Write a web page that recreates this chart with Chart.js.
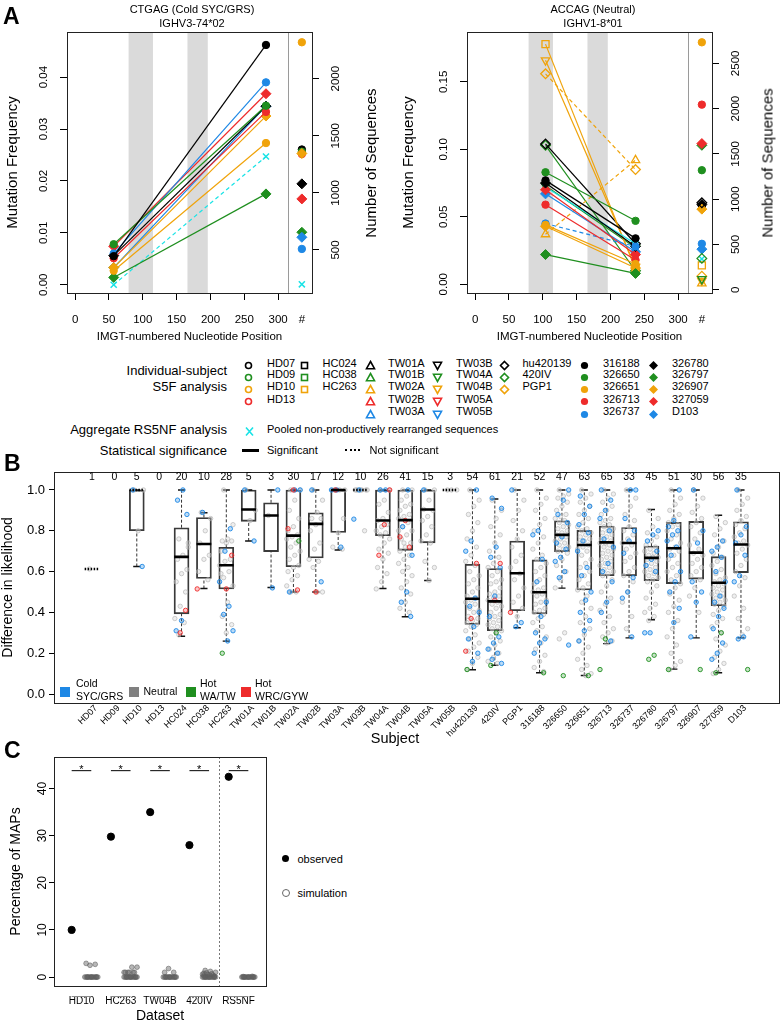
<!DOCTYPE html>
<html>
<head>
<meta charset="utf-8">
<script src="https://cdn.jsdelivr.net/npm/chart.js@4.4.1/dist/chart.umd.min.js"></script>
<style>
  html, body { overflow: hidden; }
  body { margin: 0; background: #fff; width: 782px; height: 1025px; position: relative;
         font-family: "Liberation Sans", Arial, Helvetica, sans-serif; color: #000; }
  canvas { position: absolute; }
  .t { position: absolute; white-space: nowrap; line-height: 1; color: #000; }
  .mk { position: absolute; width: 11px; height: 11px; }
</style>
</head>
<body>
<canvas id="a1" width="390" height="345" style="left:0;top:0"></canvas>
<canvas id="a2" width="392" height="345" style="left:390px;top:0"></canvas>
<canvas id="b" width="782" height="300" style="left:0;top:460px"></canvas>
<canvas id="c" width="280" height="280" style="left:0;top:745px"></canvas>
<script>
// ---------------- data ----------------
// Panel A: IMGT nucleotide positions of the two motif occurrences
const ctgagPositions = [57, 282];
const accagPositions = [104, 237];
const seqColumn = 335;                 // x slot of the "#" column
const cdrBands = [[79, 115], [166, 196]];
const posTicks = [0, 50, 100, 150, 200, 250, 300];

const ctgagSubjects = ['316188', '326650', '326651', '326713', '326737', '326780', '326797', '326907', '327059', 'D103', 'RS5NF'];
const ctgagFreqFrom = [0.0055, 0.0078, 0.0027, 0.0051, 0.0060, 0.0056, 0.0014, 0.0033, 0.0074, 0.0033, 0.0000];
const ctgagFreqTo   = [0.0462, 0.0345, 0.0273, 0.0333, 0.0390, 0.0344, 0.0175, 0.0325, 0.0368, 0.0344, 0.0247];
const ctgagSeqs     = [1380, 1360, 2319, 1340, 509, 1079, 655, 1345, 947, 611, 199];
const ctgagSignif   = [true, true, true, true, true, true, true, true, true, true, false];
const ctgagFreqTicks = [0, 0.01, 0.02, 0.03, 0.04];
const ctgagSeqTicks  = [500, 1000, 1500, 2000];

const accagSubjects = ['316188', '326650', '326651', '326713', '326737', '326780', '326797', '326907', '327059', 'D103', 'RS5NF',
                       'HC263', 'TW04B', 'PGP1', 'TW02A', 'hu420139', '420IV', 'TW04A'];
const accagFreqFrom = [0.077, 0.083, 0.044, 0.059, 0.045, 0.075, 0.022, 0.043, 0.070, 0.067, 0.072,
                       0.178, 0.166, 0.156, 0.037, 0.104, 0.103, 0.073];
const accagFreqTo   = [0.034, 0.047, 0.015, 0.018, 0.028, 0.028, 0.008, 0.012, 0.022, 0.024, 0.030,
                       0.011, 0.013, 0.085, 0.092, 0.030, 0.010, 0.027];
const accagSeqs     = [926, 1320, 2732, 2044, 507, 940, 1595, 890, 1614, 448, 340,
                       269, 100, 150, 70, 960, 346, 118];
const accagSignif   = [true, true, true, true, false, true, true, true, true, true, true,
                       true, true, false, false, true, true, true];
const accagFreqTicks = [0, 0.05, 0.10, 0.15];
const accagSeqTicks  = [0, 500, 1000, 1500, 2000, 2500];

// legend layout of subjects (column = symbol, row = colour)
const legendColumns = [
  ['HD07', 'HD09', 'HD10', 'HD13'],
  ['HC024', 'HC038', 'HC263'],
  ['TW01A', 'TW01B', 'TW02A', 'TW02B', 'TW03A'],
  ['TW03B', 'TW04A', 'TW04B', 'TW05A', 'TW05B'],
  ['hu420139', '420IV', 'PGP1'],
  ['316188', '326650', '326651', '326713', '326737'],
  ['326780', '326797', '326907', '327059', 'D103']
];

// Panel B
const subjectsB = ['HD07', 'HD09', 'HD10', 'HD13', 'HC024', 'HC038', 'HC263', 'TW01A', 'TW01B', 'TW02A', 'TW02B', 'TW03A',
                   'TW03B', 'TW04A', 'TW04B', 'TW05A', 'TW05B', 'hu420139', '420IV', 'PGP1', '316188', '326650', '326651',
                   '326713', '326737', '326780', '326797', '326907', '327059', 'D103'];
const nMaps = [1, 0, 5, 0, 20, 10, 28, 5, 3, 30, 17, 12, 10, 26, 41, 15, 3, 54, 61, 21, 52, 47, 63, 65, 33, 45, 51, 30, 56, 35];
const lowB  = [0.613, null, 0.625, null, 0.283, 0.517, 0.259, 0.75, 0.522, 0.50, 0.50, 0.706, 1, 0.517, 0.379, 0.556, 1,
               0.119, 0.141, 0.325, 0.104, 0.519, 0.091, 0.247, 0.275, 0.364, 0.122, 0.275, 0.104, 0.275];
const q1B   = [0.613, null, 0.80, null, 0.393, 0.566, 0.515, 0.846, 0.698, 0.624, 0.667, 0.792, 1, 0.776, 0.704, 0.741, 1,
               0.341, 0.310, 0.408, 0.393, 0.698, 0.510, 0.580, 0.579, 0.556, 0.541, 0.563, 0.433, 0.595];
const medB  = [0.613, null, 1.00, null, 0.672, 0.735, 0.631, 0.904, 0.875, 0.776, 0.834, 1.0, 1, 0.850, 0.852, 0.904, 1,
               0.467, 0.454, 0.592, 0.499, 0.780, 0.730, 0.743, 0.740, 0.667, 0.714, 0.693, 0.545, 0.733];
const q3B   = [0.613, null, 1.00, null, 0.815, 0.865, 0.719, 1.0, 0.937, 1.0, 0.888, 1.0, 1, 1.0, 1.0, 1.0, 1,
               0.636, 0.615, 0.750, 0.657, 0.849, 0.802, 0.823, 0.816, 0.725, 0.841, 0.846, 0.673, 0.844];
const highB = [0.613, null, 1.00, null, 1.0, 0.888, 1.0, 1.0, 1.0, 1.0, 1.0, 1.0, 1, 1.0, 1.0, 1.0, 1,
               1.0, 0.956, 1.0, 1.0, 1.0, 1.0, 1.0, 1.0, 0.904, 1.0, 1.0, 0.876, 1.0];
const signifB = [false, false, false, false, true, true, true, true, true, true, true, true, false, true, true, true, false,
                 true, true, true, true, true, true, true, true, true, true, true, true, true];

const neutralPts = [
  [0.613], [], [1.0, 1.0, 0.8], [],
  [0.76, 0.74, 0.68, 0.66, 0.61, 0.59, 0.55, 0.50, 0.43, 0.37, 0.35, 0.29, 0.72],
  [0.89, 0.86, 0.80, 0.74, 0.68, 0.66, 0.60, 0.56],
  [1.0, 0.83, 0.76, 0.75, 0.75, 0.74, 0.70, 0.66, 0.65, 0.63, 0.60, 0.57, 0.53, 0.45, 0.38, 0.34, 0.30, 0.59],
  [1.0, 0.9, 0.85],
  [0.875],
  [1.0, 1.0, 0.95, 0.90, 0.86, 0.82, 0.80, 0.78, 0.77, 0.76, 0.74, 0.72, 0.70, 0.68, 0.66, 0.63, 0.62, 0.60, 0.58, 0.56, 0.53, 0.50, 0.50],
  [1.0, 0.95, 0.89, 0.86, 0.86, 0.83, 0.80, 0.74, 0.71, 0.66, 0.65, 0.62, 0.50, 0.50],
  [1.0, 1.0, 1.0, 1.0, 0.86, 0.79, 0.72, 0.71],
  [1.0, 1.0, 1.0, 1.0, 1.0, 1.0, 1.0, 0.80],
  [1.0, 1.0, 0.95, 0.93, 0.89, 0.86, 0.85, 0.83, 0.82, 0.80, 0.79, 0.78, 0.76, 0.74, 0.71, 0.69, 0.66, 0.62, 0.59, 0.55, 0.515],
  [1.0, 1.0, 0.97, 0.95, 0.93, 0.92, 0.90, 0.88, 0.87, 0.86, 0.84, 0.82, 0.80, 0.78, 0.76, 0.74, 0.72, 0.70, 0.68, 0.66, 0.64, 0.62,
   0.60, 0.58, 0.55, 0.52, 0.49, 0.45, 0.42, 0.40, 0.74, 0.80],
  [1.0, 1.0, 0.95, 0.905, 0.90, 0.87, 0.85, 0.82, 0.78, 0.75, 0.74, 0.65, 0.62, 0.556],
  [1.0, 1.0, 1.0],
  [1.0, 0.95, 0.92, 0.88, 0.84, 0.80, 0.76, 0.72, 0.68, 0.65, 0.63, 0.60, 0.58, 0.56, 0.54, 0.52, 0.50, 0.48, 0.47, 0.46,
   0.45, 0.44, 0.42, 0.41, 0.40, 0.38, 0.37, 0.36, 0.35, 0.34, 0.33, 0.31, 0.29, 0.27, 0.25, 0.23, 0.21, 0.18, 0.15, 0.12],
  [0.95, 0.90, 0.86, 0.82, 0.78, 0.74, 0.70, 0.67, 0.64, 0.62, 0.60, 0.58, 0.56, 0.55, 0.54, 0.52, 0.50, 0.49, 0.48, 0.47, 0.46, 0.45,
   0.44, 0.43, 0.42, 0.40, 0.39, 0.38, 0.37, 0.36, 0.35, 0.34, 0.33, 0.32, 0.31, 0.30, 0.28, 0.26, 0.24, 0.22, 0.20, 0.18, 0.16, 0.15],
  [1.0, 0.95, 0.90, 0.85, 0.80, 0.76, 0.72, 0.68, 0.65, 0.62, 0.59, 0.56, 0.52, 0.48, 0.45, 0.42, 0.38],
  [1.0, 0.96, 0.93, 0.90, 0.86, 0.83, 0.80, 0.77, 0.74, 0.71, 0.68, 0.66, 0.64, 0.62, 0.60, 0.58, 0.56, 0.54, 0.52, 0.51, 0.50,
   0.49, 0.48, 0.46, 0.45, 0.44, 0.42, 0.41, 0.40, 0.39, 0.37, 0.35, 0.33, 0.31, 0.28, 0.25, 0.22, 0.19, 0.16, 0.13, 0.11],
  [1.0, 0.98, 0.97, 0.96, 0.94, 0.92, 0.90, 0.88, 0.87, 0.86, 0.85, 0.84, 0.83, 0.82, 0.81, 0.80, 0.79, 0.78, 0.77, 0.76, 0.75,
   0.74, 0.73, 0.72, 0.71, 0.70, 0.69, 0.66, 0.63, 0.60, 0.56, 0.52, 0.30, 0.27],
  [1.0, 0.98, 0.96, 0.94, 0.92, 0.90, 0.88, 0.86, 0.84, 0.82, 0.81, 0.80, 0.79, 0.78, 0.77, 0.76, 0.75, 0.74, 0.73, 0.72, 0.71,
   0.70, 0.68, 0.66, 0.64, 0.62, 0.60, 0.58, 0.56, 0.54, 0.52, 0.51, 0.48, 0.45, 0.42, 0.38, 0.35, 0.32, 0.29, 0.26, 0.23, 0.20,
   0.17, 0.14, 0.12, 0.10, 0.09],
  [1.0, 0.98, 0.96, 0.94, 0.92, 0.90, 0.88, 0.86, 0.85, 0.84, 0.83, 0.82, 0.81, 0.80, 0.79, 0.78, 0.77, 0.76, 0.75, 0.74, 0.74,
   0.73, 0.72, 0.71, 0.70, 0.69, 0.68, 0.67, 0.66, 0.65, 0.64, 0.63, 0.62, 0.61, 0.60, 0.59, 0.58, 0.56, 0.53, 0.50, 0.47, 0.44,
   0.41, 0.38, 0.35, 0.32, 0.30, 0.28, 0.26, 0.25],
  [1.0, 0.96, 0.92, 0.88, 0.85, 0.82, 0.80, 0.78, 0.76, 0.74, 0.73, 0.71, 0.69, 0.67, 0.65, 0.62, 0.60, 0.58, 0.55, 0.50, 0.45, 0.38, 0.32],
  [0.90, 0.86, 0.82, 0.79, 0.77, 0.75, 0.73, 0.72, 0.71, 0.70, 0.69, 0.68, 0.67, 0.67, 0.66, 0.65, 0.64, 0.63, 0.62, 0.61, 0.60,
   0.59, 0.58, 0.57, 0.56, 0.55, 0.53, 0.50, 0.47, 0.44, 0.42, 0.40, 0.38, 0.36],
  [1.0, 0.96, 0.93, 0.90, 0.88, 0.86, 0.84, 0.83, 0.82, 0.80, 0.78, 0.76, 0.74, 0.72, 0.71, 0.70, 0.68, 0.66, 0.64, 0.62, 0.60,
   0.58, 0.56, 0.54, 0.52, 0.49, 0.46, 0.43, 0.40, 0.36, 0.32, 0.28, 0.24, 0.20, 0.16, 0.14, 0.12],
  [1.0, 0.96, 0.92, 0.89, 0.86, 0.84, 0.82, 0.79, 0.76, 0.73, 0.71, 0.69, 0.68, 0.66, 0.64, 0.62, 0.60, 0.58, 0.56, 0.52, 0.48, 0.40],
  [0.87, 0.84, 0.81, 0.78, 0.75, 0.72, 0.69, 0.67, 0.65, 0.63, 0.61, 0.59, 0.57, 0.56, 0.55, 0.54, 0.53, 0.52, 0.51, 0.50, 0.49,
   0.48, 0.47, 0.46, 0.45, 0.44, 0.43, 0.41, 0.39, 0.37, 0.35, 0.33, 0.30, 0.27, 0.24, 0.21, 0.18, 0.15, 0.12, 0.10],
  [1.0, 0.96, 0.93, 0.90, 0.87, 0.85, 0.83, 0.81, 0.79, 0.77, 0.75, 0.74, 0.73, 0.71, 0.69, 0.66, 0.63, 0.60, 0.57, 0.53, 0.48,
   0.42, 0.37, 0.32, 0.29]
];
const coldPts = [
  [], [], [1.0, 0.625], [], [1.0, 0.95, 0.88, 0.36, 0.31], [0.89], [0.81, 0.70, 0.55, 0.43, 0.39, 0.31, 0.26],
  [1.0, 0.75], [1.0, 0.52], [1.0, 1.0, 0.5], [1.0, 0.55], [1.0, 1.0, 0.72], [1.0, 0.857], [1.0, 1.0],
  [1.0, 0.82, 0.68, 0.5, 0.45, 0.38], [1.0], [],
  [1.0, 0.75, 0.70, 0.47, 0.43, 0.40, 0.33, 0.27, 0.20, 0.16],
  [0.96, 0.91, 0.72, 0.67, 0.62, 0.48, 0.38, 0.28, 0.25, 0.22, 0.20, 0.17, 0.15],
  [1.0, 0.35, 0.33],
  [0.80, 0.78, 0.66, 0.55, 0.45, 0.38, 0.30, 0.27, 0.25, 0.20],
  [1.0, 0.95, 0.88, 0.84, 0.77, 0.74, 0.71, 0.67, 0.65, 0.60, 0.57, 0.24],
  [0.97, 0.92, 0.88, 0.83, 0.79, 0.75, 0.70, 0.62, 0.58, 0.50, 0.46, 0.40, 0.36, 0.31, 0.26],
  [1.0, 0.95, 0.90, 0.86, 0.80, 0.76, 0.72, 0.64, 0.60, 0.55, 0.45, 0.40, 0.26],
  [1.0, 1.0, 0.86, 0.80, 0.75, 0.69, 0.57, 0.50, 0.47, 0.28],
  [0.80, 0.78, 0.75, 0.70, 0.66, 0.63, 0.60, 0.30, 0.30],
  [1.0, 0.85, 0.82, 0.80, 0.78, 0.75, 0.72, 0.68, 0.60, 0.55, 0.50, 0.42, 0.35],
  [1.0, 0.80, 0.74, 0.55, 0.50, 0.45, 0.28],
  [0.75, 0.72, 0.70, 0.67, 0.60, 0.55, 0.48, 0.45, 0.42, 0.38, 0.32, 0.25, 0.20, 0.17],
  [1.0, 0.82, 0.78, 0.74, 0.68, 0.58, 0.55, 0.28, 0.27]
];
const hotWaPts = [
  [], [], [], [], [], [], [0.20], [], [], [0.75], [], [], [], [], [], [], [],
  [0.12], [0.30, 0.14], [], [0.104], [0.09], [0.09], [0.27, 0.12], [], [0.19, 0.17], [0.12], [0.12], [0.30, 0.104], [0.12]
];
const hotWrcPts = [
  [], [], [], [], [0.41, 0.30], [0.515], [0.68, 0.515], [], [], [1.0, 0.81, 0.51], [0.5], [1.0], [], [1.0, 0.83, 0.68],
  [0.85, 0.77, 0.72], [], [], [0.64, 0.37, 0.21], [0.64, 0.46], [0.40], [], [], [], [], [], [], [], [], [], []
];
const likelihoodTicks = [0, 0.2, 0.4, 0.6, 0.8, 1.0];

// Panel C
const datasetsC = ['HD10', 'HC263', 'TW04B', '420IV', 'RS5NF'];
const observedC = [10, 29.8, 35, 28, 42.5];
const simulatedC = [
  [0, 0, 0, 0, 0, 0, 0, 0, 0, 0, 0, 0, 0, 0, 2.9, 2.7, 2.5],
  [0, 0, 0, 0, 0, 0, 0, 0, 0, 0, 0, 0, 0, 0, 1, 1, 1, 1, 1, 1, 2.1, 2.1],
  [0, 0, 0, 0, 0, 0, 0, 0, 0, 0, 0, 0, 0, 0, 1, 1, 1.8],
  [0, 0, 0, 0, 0, 0, 0, 0, 0, 0, 0, 0, 0, 0, 0.3, 0.4, 0.5, 0.6, 0.7, 0.9, 1.0, 1.2, 1.4, 0.2, 0.5, 0.8],
  [0, 0, 0, 0, 0, 0, 0, 0, 0, 0, 0, 0, 0, 0, 0.1, 0.15]
];
const mapTicks = [0, 10, 20, 30, 40];

// ---------------- styling ----------------
const FONT = "'Liberation Sans', Arial, Helvetica, sans-serif";
Chart.defaults.font.family = FONT;
Chart.defaults.color = '#000';
Chart.defaults.plugins.legend.display = false;
Chart.defaults.plugins.tooltip.enabled = false;

const rowColors = ['#000000', '#1f8f1f', '#f0a30a', '#ee2b2b', '#1e88e5'];
const columnShapes = ['circle', 'square', 'triangle', 'triangleDown', 'diamond', 'dot', 'solidDiamond'];
const CYAN = '#19e3e6';
const CLEAR = 'rgba(0,0,0,0)';

function markerOf(name) {
  if (name === 'RS5NF') return { shape: 'cross', color: CYAN };
  for (let c = 0; c < legendColumns.length; c++) {
    const r = legendColumns[c].indexOf(name);
    if (r >= 0) return { shape: columnShapes[c], color: rowColors[r] };
  }
}

function pointOf(m) {
  const base = { color: m.color, rot: 0, fill: CLEAR, bw: 1.3 };
  switch (m.shape) {
    case 'circle': return Object.assign(base, { style: 'circle', r: 3.4 });
    case 'square': return Object.assign(base, { style: 'rect', r: 5 });
    case 'triangle': return Object.assign(base, { style: 'triangle', r: 4.8 });
    case 'triangleDown': return Object.assign(base, { style: 'triangle', r: 4.8, rot: 180 });
    case 'diamond': return Object.assign(base, { style: 'rectRot', r: 4.8 });
    case 'dot': return Object.assign(base, { style: 'circle', r: 3.7, fill: m.color, bw: 1 });
    case 'solidDiamond': return Object.assign(base, { style: 'rectRot', r: 5, fill: m.color, bw: 1 });
    default: return Object.assign(base, { style: 'crossRot', r: 4.3, bw: 1.5 });
  }
}

function put(text, x, y, size, align, opts) {
  opts = opts || {};
  const d = document.createElement('div');
  d.className = 't';
  d.textContent = text;
  d.style.fontSize = size + 'px';
  d.style.left = x + 'px';
  d.style.top = y + 'px';
  if (opts.bold) d.style.fontWeight = 'bold';
  const tx = align === 'right' ? '-100%' : align === 'center' ? '-50%' : '0';
  if (opts.vertical) {
    // bottom-to-top text without an overflowing layout box
    d.style.writingMode = 'vertical-rl';
    d.style.transform = 'translate(-50%,-50%) rotate(180deg)';
  } else {
    d.style.transform = 'translate(' + tx + ',-50%)';
  }
  document.body.appendChild(d);
  return d;
}

function svgMarker(shape, color, cx, cy) {
  let body;
  const sw = 'stroke="' + color + '" stroke-width="1.6"';
  switch (shape) {
    case 'circle': body = '<circle cx="5.5" cy="5.5" r="3" fill="none" ' + sw + '/>'; break;
    case 'square': body = '<rect x="2.5" y="2.5" width="6" height="6" fill="none" ' + sw + '/>'; break;
    case 'triangle': body = '<polygon points="5.5,1.5 9.5,8.7 1.5,8.7" fill="none" ' + sw + '/>'; break;
    case 'triangleDown': body = '<polygon points="1.5,2.3 9.5,2.3 5.5,9.5" fill="none" ' + sw + '/>'; break;
    case 'diamond': body = '<polygon points="5.5,1.5 9.5,5.5 5.5,9.5 1.5,5.5" fill="none" ' + sw + '/>'; break;
    case 'dot': body = '<circle cx="5.5" cy="5.5" r="3.6" fill="' + color + '"/>'; break;
    case 'solidDiamond': body = '<polygon points="5.5,1 10,5.5 5.5,10 1,5.5" fill="' + color + '"/>'; break;
    default: body = '<path d="M2,1.5 L9,9.5 M9,1.5 L2,9.5" ' + sw + '/>';
  }
  const d = document.createElement('div');
  d.className = 'mk';
  d.style.left = (cx - 5.5) + 'px';
  d.style.top = (cy - 5.5) + 'px';
  d.innerHTML = '<svg width="11" height="11" viewBox="0 0 11 11">' + body + '</svg>';
  document.body.appendChild(d);
}

function boxPlugin(extra) {
  return {
    id: 'box',
    beforeDatasetsDraw(chart) {
      if (extra && extra.before) extra.before(chart);
    },
    afterDraw(chart) {
      const { ctx, chartArea: a } = chart;
      ctx.save();
      ctx.strokeStyle = '#222';
      ctx.lineWidth = 1;
      ctx.setLineDash([]);
      ctx.strokeRect(Math.round(a.left) + 0.5, Math.round(a.top) + 0.5, Math.round(a.right - a.left), Math.round(a.bottom - a.top));
      if (extra && extra.after) extra.after(chart);
      ctx.restore();
    }
  };
}

function fixedTicks(values) {
  return scale => { scale.ticks = values.map(v => ({ value: v })); };
}

// ---------------- panel A ----------------
function motifChart(id, cfg) {
  const marks = cfg.subjects.map(s => pointOf(markerOf(s)));
  const datasets = cfg.subjects.map((s, i) => ({
    type: 'line',
    data: [{ x: cfg.pos[0], y: cfg.from[i] }, { x: cfg.pos[1], y: cfg.to[i] }],
    borderColor: marks[i].color,
    borderWidth: 1.2,
    borderDash: cfg.signif[i] ? [] : [4, 3],
    pointStyle: marks[i].style,
    pointRotation: marks[i].rot,
    pointRadius: marks[i].r,
    pointBackgroundColor: marks[i].fill,
    pointBorderColor: marks[i].color,
    pointBorderWidth: marks[i].bw,
    yAxisID: 'y'
  }));
  datasets.push({
    type: 'scatter',
    data: cfg.subjects.map((s, i) => ({ x: seqColumn, y: cfg.seqs[i] })),
    yAxisID: 'y2',
    pointStyle: marks.map(m => m.style),
    pointRotation: marks.map(m => m.rot),
    pointRadius: marks.map(m => m.r),
    pointBackgroundColor: marks.map(m => m.fill),
    pointBorderColor: marks.map(m => m.color),
    pointBorderWidth: marks.map(m => m.bw)
  });

  return new Chart(document.getElementById(id), {
    type: 'scatter',
    data: { datasets },
    options: {
      responsive: false,
      animation: false,
      layout: { autoPadding: false, padding: { top: 32, left: 0, right: 0, bottom: 0 } },
      scales: {
        x: {
          type: 'linear', min: -12, max: 350, offset: false,
          afterBuildTicks: fixedTicks(posTicks.concat([seqColumn])),
          ticks: { autoSkip: false, maxRotation: 0, padding: 13, font: { size: 11.5 },
                   callback: v => (v === seqColumn ? '#' : String(v)) },
          grid: { drawOnChartArea: false, tickLength: 7,
                  color: c => (c.tick && c.tick.value === seqColumn ? CLEAR : '#000') },
          border: { display: false },
          title: { display: true, text: 'IMGT-numbered Nucleotide Position', font: { size: 11.5 }, padding: { top: 0, bottom: 1 } },
          afterFit: s => { s.height = 52; }
        },
        y: {
          position: 'left', min: cfg.yMin, max: cfg.yMax,
          afterBuildTicks: fixedTicks(cfg.freqTicks),
          ticks: { minRotation: 90, maxRotation: 90, crossAlign: 'center', padding: 5, font: { size: 11.5 },
                   callback: v => v.toFixed(2) },
          grid: { drawOnChartArea: false, tickLength: 7, color: '#000' },
          border: { display: false },
          title: { display: true, text: 'Mutation Frequency', font: { size: 15 }, padding: { top: cfg.titlePad, bottom: 0 } },
          afterFit: s => { s.width = cfg.leftW; }
        },
        y2: {
          position: 'right', min: cfg.nMin, max: cfg.nMax,
          afterBuildTicks: fixedTicks(cfg.seqTicks),
          ticks: { minRotation: 90, maxRotation: 90, crossAlign: 'center', padding: 4.5, font: { size: 11.5 },
                   callback: v => String(v) },
          grid: { drawOnChartArea: false, tickLength: 7, color: '#000' },
          border: { display: false },
          afterFit: s => { s.width = cfg.rightW; }
        }
      }
    },
    plugins: [boxPlugin({
      before(chart) {
        const { ctx, chartArea: a, scales: { x } } = chart;
        ctx.save();
        ctx.fillStyle = '#dadada';
        cdrBands.forEach(b => {
          const x0 = x.getPixelForValue(b[0]), x1 = x.getPixelForValue(b[1]);
          ctx.fillRect(x0, a.top, x1 - x0, a.bottom - a.top);
        });
        const sx = Math.round(x.getPixelForValue((posTicks[posTicks.length - 1] + seqColumn) / 2 - 3)) + 0.5;
        ctx.strokeStyle = '#9a9a9a';
        ctx.lineWidth = 1;
        ctx.beginPath(); ctx.moveTo(sx, a.top); ctx.lineTo(sx, a.bottom); ctx.stroke();
        ctx.restore();
      }
    })]
  });
}

motifChart('a1', {
  subjects: ctgagSubjects, pos: ctgagPositions, from: ctgagFreqFrom, to: ctgagFreqTo, seqs: ctgagSeqs,
  signif: ctgagSignif, freqTicks: ctgagFreqTicks, seqTicks: ctgagSeqTicks,
  yMin: -0.0016, yMax: 0.0487, nMin: 123, nMax: 2409, leftW: 67, rightW: 78, titlePad: 4
});
motifChart('a2', {
  subjects: accagSubjects, pos: accagPositions, from: accagFreqFrom, to: accagFreqTo, seqs: accagSeqs,
  signif: accagSignif, freqTicks: accagFreqTicks, seqTicks: accagSeqTicks,
  yMin: -0.0065, yMax: 0.187, nMin: -36, nMax: 2846, leftW: 77, rightW: 70, titlePad: 10
});

// ---------------- panel B ----------------
(function () {
  const half = 0.33, cap = 0.16;
  const boxes = [], whiskers = [], caps = [], medSolid = [], medDot = [];
  const grey = [], blue = [], green = [], red = [];
  subjectsB.forEach((s, i) => {
    const p = i + 1;
    if (q1B[i] === null) return;
    const seg = medianArr => { medianArr.push({ x: p - half, y: medB[i] }, { x: p + half, y: medB[i] }, { x: p + half, y: null }); };
    seg(signifB[i] ? medSolid : medDot);
    if (q3B[i] > q1B[i]) {
      boxes.push({ x: p, y: [q1B[i], q3B[i]] });
      whiskers.push({ x: p, y: lowB[i] }, { x: p, y: q1B[i] }, { x: p, y: null },
                    { x: p, y: q3B[i] }, { x: p, y: highB[i] }, { x: p, y: null });
      caps.push({ x: p - cap, y: lowB[i] }, { x: p + cap, y: lowB[i] }, { x: p + cap, y: null },
                { x: p - cap, y: highB[i] }, { x: p + cap, y: highB[i] }, { x: p + cap, y: null });
    }
    let k = 0;
    const jitter = () => { const o = ((k * 7 + 3) % 11 - 5) / 5 * 0.3; k++; return o; };
    neutralPts[i].forEach(v => grey.push({ x: p + jitter(), y: v }));
    coldPts[i].forEach(v => blue.push({ x: p + jitter(), y: v }));
    hotWaPts[i].forEach(v => green.push({ x: p + jitter(), y: v }));
    hotWrcPts[i].forEach(v => red.push({ x: p + jitter(), y: v }));
  });

  const pts = (data, border, fill, order) => ({
    type: 'scatter', data, pointRadius: 2.2, pointBorderWidth: 1,
    pointBorderColor: border, pointBackgroundColor: fill, order
  });
  const segs = (data, color, width, dash, order) => ({
    type: 'line', data, borderColor: color, borderWidth: width, borderDash: dash,
    pointRadius: 0, spanGaps: false, order
  });

  new Chart(document.getElementById('b'), {
    type: 'scatter',
    data: {
      datasets: [
        { type: 'bar', data: boxes, backgroundColor: CLEAR, borderColor: '#3a3a3a', borderWidth: 1.2,
          borderSkipped: false, barThickness: 15, order: 10 },
        segs(whiskers, '#333', 1, [3, 2], 9),
        segs(caps, '#111', 1.4, [], 8),
        pts(grey, 'rgba(175,175,175,0.6)', 'rgba(215,215,215,0.4)', 7),
        pts(blue, 'rgba(30,136,229,0.9)', 'rgba(30,136,229,0.3)', 6),
        pts(green, 'rgba(31,143,31,0.9)', 'rgba(31,143,31,0.25)', 5),
        pts(red, 'rgba(238,43,43,0.9)', 'rgba(238,43,43,0.25)', 4),
        segs(medSolid, '#000', 2.6, [], 1),
        segs(medDot, '#000', 2.6, [1.5, 1.5], 1)
      ]
    },
    options: {
      responsive: false,
      animation: false,
      layout: { autoPadding: false, padding: { top: 11, right: 3, left: 0, bottom: 0 } },
      scales: {
        x: {
          type: 'linear', min: -0.7, max: 31.7, offset: false,
          afterBuildTicks: fixedTicks(subjectsB.map((s, i) => i + 1)),
          ticks: { autoSkip: false, minRotation: 45, maxRotation: 45, padding: 0, labelOffset: 4, font: { size: 9 },
                   callback: v => subjectsB[v - 1] },
          grid: { display: false, drawTicks: false },
          border: { display: false },
          afterFit: s => { s.height = 57; }
        },
        y: {
          min: -0.044, max: 1.089,
          afterBuildTicks: fixedTicks(likelihoodTicks),
          ticks: { padding: 4, font: { size: 13 }, callback: v => v.toFixed(1) },
          grid: { drawOnChartArea: false, tickLength: 5, color: '#000' },
          border: { display: false },
          title: { display: true, text: 'Difference in likelihood', font: { size: 14 }, padding: { top: 0, bottom: 0 } },
          afterFit: s => { s.width = 54; }
        }
      }
    },
    plugins: [boxPlugin({
      after(chart) {
        const { ctx, chartArea: a, scales: { x } } = chart;
        ctx.fillStyle = '#000';
        ctx.font = '10.5px ' + FONT;
        ctx.textAlign = 'center';
        ctx.textBaseline = 'middle';
        nMaps.forEach((n, i) => ctx.fillText(String(n), x.getPixelForValue(i + 1), a.top + 5.5));
      }
    })]
  });
})();

// ---------------- panel C ----------------
(function () {
  const sigLevel = 43.8;
  const splitAt = 8.5;
  const bracket = [], obs = [], sim = [];
  datasetsC.forEach((name, k) => {
    const xo = 2 * k + 1, xs = 2 * k + 2;
    bracket.push({ x: xo, y: sigLevel }, { x: xs, y: sigLevel }, { x: xs, y: null });
    obs.push({ x: xo, y: observedC[k] });
    simulatedC[k].forEach((v, j) => sim.push({ x: xs + ((j * 7 + 2) % 11 - 5) / 5 * 0.33, y: v }));
  });

  new Chart(document.getElementById('c'), {
    type: 'scatter',
    data: {
      datasets: [
        { type: 'line', data: bracket, borderColor: '#000', borderWidth: 1, pointRadius: 0, spanGaps: false },
        { type: 'scatter', data: obs, pointRadius: 3.6, pointBackgroundColor: '#000', pointBorderColor: '#000' },
        { type: 'scatter', data: sim, pointRadius: 2.4, pointBorderWidth: 1,
          pointBackgroundColor: 'rgba(95,95,95,0.45)', pointBorderColor: 'rgba(95,95,95,0.55)' }
      ]
    },
    options: {
      responsive: false,
      animation: false,
      layout: { autoPadding: false, padding: { top: 12, right: 14, left: 0, bottom: 0 } },
      scales: {
        x: {
          type: 'linear', min: 0.1, max: 10.9, offset: false,
          afterBuildTicks: fixedTicks(datasetsC.map((n, k) => 2 * k + 1.5)),
          ticks: { autoSkip: false, maxRotation: 0, padding: 9.5, font: { size: 10 },
                   callback: v => datasetsC[(v - 1.5) / 2] },
          grid: { display: false, drawTicks: false },
          border: { display: false },
          title: { display: true, text: 'Dataset', font: { size: 14 }, padding: { top: 0, bottom: 0 } },
          afterFit: s => { s.height = 39; }
        },
        y: {
          min: -1.9, max: 46.7,
          afterBuildTicks: fixedTicks(mapTicks),
          ticks: { minRotation: 90, maxRotation: 90, crossAlign: 'center', padding: 0, font: { size: 12 },
                   callback: v => String(v) },
          grid: { drawOnChartArea: false, tickLength: 5, color: '#000' },
          border: { display: false },
          title: { display: true, text: 'Percentage of MAPs', font: { size: 14 }, padding: { top: 7.5, bottom: 0 } },
          afterFit: s => { s.width = 54; }
        }
      }
    },
    plugins: [boxPlugin({
      before(chart) {
        const { ctx, chartArea: a, scales: { x } } = chart;
        ctx.save();
        const sx = Math.round(x.getPixelForValue(splitAt)) + 0.5;
        ctx.strokeStyle = '#777';
        ctx.setLineDash([2, 2]);
        ctx.beginPath(); ctx.moveTo(sx, a.top); ctx.lineTo(sx, a.bottom); ctx.stroke();
        ctx.restore();
      },
      after(chart) {
        const { ctx, chartArea: a, scales: { x, y } } = chart;
        ctx.fillStyle = '#000';
        ctx.font = '11px ' + FONT;
        ctx.textAlign = 'center';
        ctx.textBaseline = 'alphabetic';
        ctx.strokeStyle = '#8a8a8a';
        ctx.lineWidth = 1;
        datasetsC.forEach((n, k) => {
          const x0 = x.getPixelForValue(2 * k + 1), x1 = x.getPixelForValue(2 * k + 2);
          ctx.fillText('*', (x0 + x1) / 2, y.getPixelForValue(sigLevel) + 2.5);
          ctx.beginPath(); ctx.moveTo(x0, a.bottom + 10.5); ctx.lineTo(x1, a.bottom + 10.5); ctx.stroke();
        });
      }
    })]
  });
})();

// ---------------- text overlays ----------------
put('A', 3, 16, 23, 'left', { bold: true });
put('B', 4, 463, 23, 'left', { bold: true });
put('C', 4, 750, 23, 'left', { bold: true });

put('CTGAG (Cold SYC/GRS)', 192, 9, 11, 'center');
put('IGHV3-74*02', 192, 23, 11, 'center');
put('ACCAG (Neutral)', 593, 9, 11, 'center');
put('IGHV1-8*01', 593, 23, 11, 'center');
put('Number of Sequences', 369.5, 162.5, 15, 'center', { vertical: true });
put('Number of Sequences', 767, 162.5, 15, 'center', { vertical: true });
put('Subject', 395, 737.5, 14.5, 'center');

// subject legend
const legendX = [[248.5, 267], [304, 322.5], [370, 388], [437.5, 456], [504, 522.5], [584.5, 603], [653.5, 672]];
const legendY = [362.5, 374.3, 386.3, 398.8, 411.4];
put('Individual-subject', 227, 370, 13, 'right');
put('S5F analysis', 227, 386, 13, 'right');
legendColumns.forEach((col, c) => {
  col.forEach((name, r) => {
    svgMarker(columnShapes[c], rowColors[r], legendX[c][0], legendY[r]);
    put(name, legendX[c][1], legendY[r], 11, 'left');
  });
});
put('Aggregate RS5NF analysis', 227, 428.5, 13, 'right');
svgMarker('cross', CYAN, 249.8, 428.5);
put('Pooled non-productively rearranged sequences', 267, 428.5, 11, 'left');
put('Statistical significance', 227, 450, 13, 'right');
(function () {
  const solid = document.createElement('div');
  solid.style.cssText = 'position:absolute;left:242px;top:449px;width:17px;height:2.5px;background:#000';
  document.body.appendChild(solid);
  const dot = document.createElement('div');
  dot.style.cssText = 'position:absolute;left:344.5px;top:448.8px;width:15px;height:0;border-top:2.5px dotted #000';
  document.body.appendChild(dot);
})();
put('Significant', 267, 450, 11, 'left');
put('Not significant', 369.5, 450, 11, 'left');

// panel B class legend
[['#1e88e5', 65, ['Cold', 'SYC/GRS'], 76], ['#808080', 134, ['Neutral'], 143.5],
 ['#1f8f1f', 190.5, ['Hot', 'WA/TW'], 200], ['#ee2b2b', 245.5, ['Hot', 'WRC/GYW'], 255]].forEach(e => {
  const sq = document.createElement('div');
  sq.style.cssText = 'position:absolute;width:10px;height:10px;background:' + e[0] + ';left:' + (e[1] - 5) + 'px;top:' + (691.5 - 5) + 'px';
  document.body.appendChild(sq);
  if (e[2].length === 2) {
    put(e[2][0], e[3], 683, 10.5, 'left');
    put(e[2][1], e[3], 695.5, 10.5, 'left');
  } else {
    put(e[2][0], e[3], 690.5, 10.5, 'left');
  }
});

// panel C legend
(function () {
  const d = document.createElement('div');
  d.style.cssText = 'position:absolute;left:281.5px;top:854.5px;width:7.5px;height:7.5px;border-radius:50%;background:#000';
  document.body.appendChild(d);
  const o = document.createElement('div');
  o.style.cssText = 'position:absolute;left:281.5px;top:889px;width:6px;height:6px;border-radius:50%;border:1.2px solid #666';
  document.body.appendChild(o);
  put('observed', 297.5, 858.5, 11, 'left');
  put('simulation', 297.5, 893, 11, 'left');
})();
</script>
</body>
</html>
